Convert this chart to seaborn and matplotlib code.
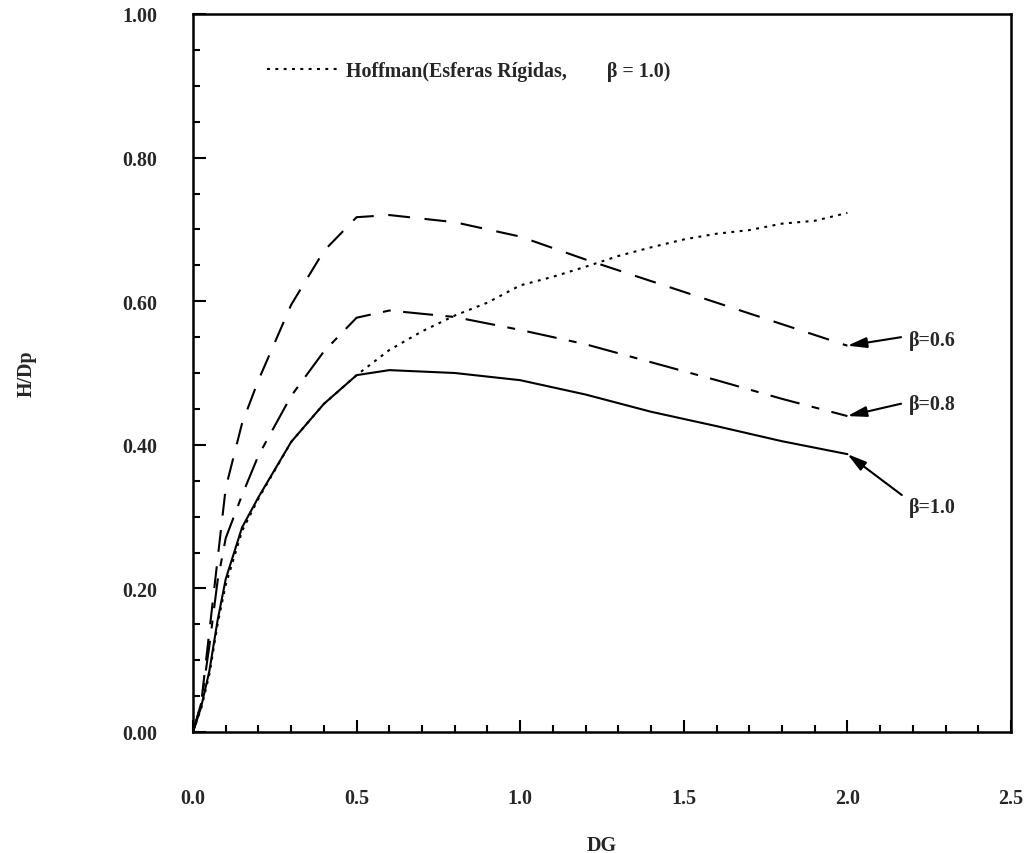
import numpy as np
import pandas as pd
import matplotlib
matplotlib.use("Agg")
import matplotlib.pyplot as plt
import seaborn as sns
from matplotlib.ticker import MultipleLocator, FormatStrFormatter

# ---- data ----
dg = [0, 0.025, 0.05, 0.075, 0.1, 0.15, 0.2, 0.3, 0.4, 0.5, 0.6, 0.8,
      1.0, 1.2, 1.4, 1.6, 1.8, 2.0]
beta_10 = [0, 0.035, 0.085, 0.155, 0.213, 0.285, 0.327, 0.404, 0.457, 0.497,
           0.504, 0.50, 0.49, 0.47, 0.446, 0.426, 0.405, 0.387]
beta_08 = [0, 0.04, 0.12, 0.21, 0.27, 0.33, 0.385, 0.468, 0.53, 0.577,
           0.587, 0.578, 0.56, 0.54, 0.515, 0.49, 0.464, 0.44]
beta_06 = [0, 0.04, 0.14, 0.24, 0.34, 0.43, 0.49, 0.595, 0.67, 0.717,
           0.72, 0.71, 0.69, 0.658, 0.628, 0.598, 0.568, 0.538]

dg_hoff = [0, 0.025, 0.05, 0.075, 0.1, 0.15, 0.2, 0.3, 0.4, 0.5, 0.6, 0.7,
           0.8, 0.9, 1.0, 1.1, 1.2, 1.3, 1.4, 1.5, 1.6, 1.7, 1.8, 1.9, 2.0]
hoffman = [0, 0.033, 0.08, 0.15, 0.205, 0.28, 0.325, 0.404, 0.457, 0.497,
           0.532, 0.558, 0.58, 0.598, 0.622, 0.634, 0.648, 0.663, 0.675,
           0.686, 0.694, 0.699, 0.708, 0.712, 0.723]

curve_labels = ["β=0.6", "β=0.8", "β=1.0"]
legend_label = "Hoffman(Esferas Rígidas,        β = 1.0)"
x_label = "DG"
y_label = "H/Dp"

# ---- styling ----
sns.set_theme(style="white")
plt.rcParams["font.family"] = ["Liberation Serif", "DejaVu Serif"]
plt.rcParams["font.weight"] = "bold"
FS = 14.4

fig = plt.figure(figsize=(10.25, 8.54), dpi=100)
ax = fig.add_axes([193 / 1025, 1 - 733 / 854, (1011 - 193) / 1025, (733 - 15) / 854])

lw = 1.5
sns.lineplot(x=dg_hoff, y=hoffman, ax=ax, color="black", lw=lw, legend=False,
             linestyle=(0, (1.4, 2.6)))
h_line = ax.lines[-1]
sns.lineplot(x=dg, y=beta_06, ax=ax, color="black", lw=lw, legend=False,
             linestyle=(0, (10.5, 7.0)))
sns.lineplot(x=dg, y=beta_08, ax=ax, color="black", lw=lw, legend=False,
             linestyle=(0, (14.4, 6.0, 3.8, 6.0)))
sns.lineplot(x=dg, y=beta_10, ax=ax, color="black", lw=lw, legend=False)

ax.set_xlim(0, 2.5)
ax.set_ylim(0, 1.0)

ax.xaxis.set_major_locator(MultipleLocator(0.5))
ax.xaxis.set_minor_locator(MultipleLocator(0.1))
ax.yaxis.set_major_locator(MultipleLocator(0.2))
ax.yaxis.set_minor_locator(MultipleLocator(0.05))
ax.xaxis.set_major_formatter(FormatStrFormatter("%.1f"))
ax.yaxis.set_major_formatter(FormatStrFormatter("%.2f"))

ax.tick_params(axis="both", which="both", direction="in", color="black",
               width=1.5, bottom=True, left=True, top=False, right=False)
ax.tick_params(axis="both", which="major", length=9, labelsize=FS)
ax.tick_params(axis="both", which="minor", length=5)
ax.tick_params(axis="x", which="major", pad=40)
ax.tick_params(axis="y", which="major", pad=26)
for lab in ax.get_xticklabels() + ax.get_yticklabels():
    lab.set_fontweight("bold")

for s in ax.spines.values():
    s.set_color("black")
    s.set_linewidth(1.8)

ax.set_xlabel(x_label, fontsize=FS, fontweight="bold")
ax.set_ylabel(y_label, fontsize=FS, fontweight="bold")
ax.xaxis.set_label_coords(0.5, (733 - 836) / 718)
ax.yaxis.set_label_coords((37 - 193) / 818, 0.5)

# legend for Hoffman curve
leg = ax.legend([h_line], [legend_label], loc="center left",
                bbox_to_anchor=((267 - 193) / 818, (733 - 72) / 718),
                frameon=False, handlelength=3.5,
                handletextpad=0.45, borderpad=0, borderaxespad=0,
                prop={"weight": "bold", "size": FS})

# annotations
ends = [beta_06[-1], beta_08[-1], beta_10[-1]]
text_y = [(733 - 341) / 718, (733 - 405) / 718, (733 - 508) / 718]
relpos = [(0, 0.7), (0, 0.6), (0, 0.85)]
text_x = (908 - 193) / 327
for lab, ye, ty, rp in zip(curve_labels, ends, text_y, relpos):
    ax.annotate(lab, xy=(dg[-1], ye), xytext=(text_x, ty), textcoords="data",
                fontsize=FS, fontweight="bold", ha="left", va="center",
                arrowprops=dict(arrowstyle="-|>,head_length=0.8,head_width=0.22",
                                color="black", lw=1.5, relpos=rp,
                                shrinkA=3, shrinkB=0))

fig.savefig("out.png", dpi=100, facecolor="white")
